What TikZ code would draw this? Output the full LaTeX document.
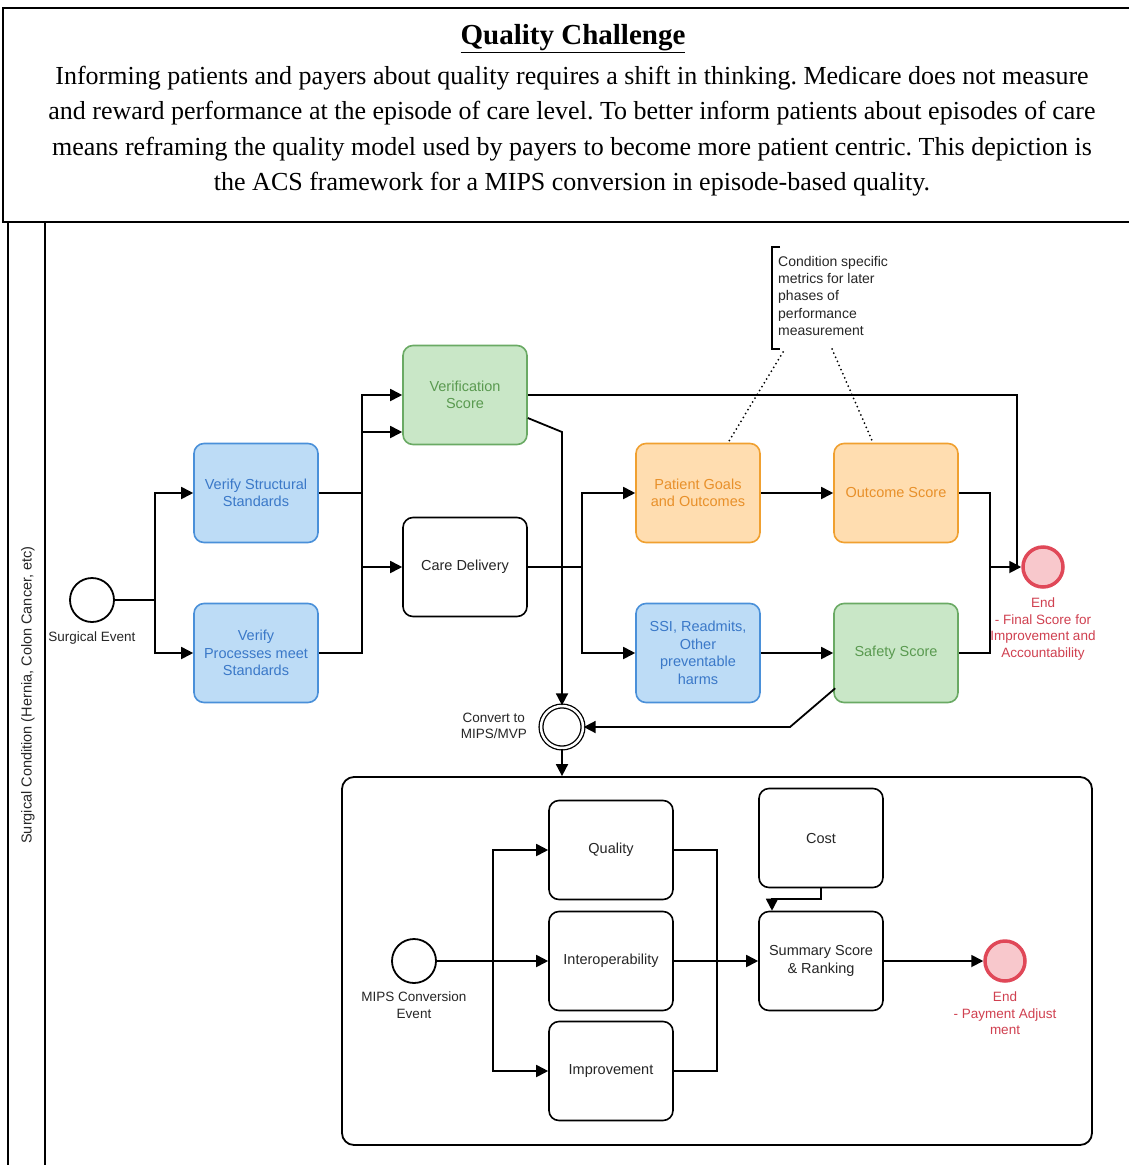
\documentclass[tikz,border=0pt]{standalone}
\usepackage{fontspec}
\setmainfont{Liberation Serif}
\setsansfont{Liberation Sans}
\usetikzlibrary{arrows.meta,calc}
\frenchspacing
\definecolor{bfill}{HTML}{BDDCF6}
\definecolor{bdraw}{HTML}{4A90D9}
\definecolor{btext}{HTML}{3A78C8}
\definecolor{gfill}{HTML}{C9E7C7}
\definecolor{gdraw}{HTML}{6AAA64}
\definecolor{gtext}{HTML}{5A9A50}
\definecolor{ofill}{HTML}{FFDDB0}
\definecolor{odraw}{HTML}{F0A030}
\definecolor{otext}{HTML}{E8902A}
\definecolor{rfill}{HTML}{F8C8CC}
\definecolor{rdraw}{HTML}{E04858}
\definecolor{rtext}{HTML}{D04050}
\tikzset{
  task/.style={draw, rounded corners=10pt, minimum width=124pt, minimum height=99pt,
    align=center, font=\sffamily\fontsize{14.5}{17.5}\selectfont, line width=1.6pt, inner sep=2pt},
  bluetask/.style={task, draw=bdraw, fill=bfill, text=btext},
  greentask/.style={task, draw=gdraw, fill=gfill, text=gtext},
  orangetask/.style={task, draw=odraw, fill=ofill, text=otext},
  plaintask/.style={task, draw=black, fill=white, text=black!85},
  conn/.style={line width=1.8pt},
  arr/.style={conn, -{Triangle[length=12pt,width=12pt]}},
  startev/.style={circle, draw, line width=1.8pt, minimum size=44pt, inner sep=0pt, fill=white},
  endev/.style={circle, draw=rdraw, fill=rfill, line width=3.5pt, minimum size=40pt, inner sep=0pt},
  convev/.style={circle, draw=black, double=white, double distance=2.5pt, line width=1.3pt, minimum size=42pt, inner sep=0pt, fill=white},
  lbl/.style={font=\sffamily\fontsize{13.5}{16.5}\selectfont, align=center, text=black!85, inner sep=0pt},
  redlbl/.style={lbl, text=rtext},
  dotline/.style={line width=2pt, line cap=round, dash pattern=on 0pt off 4.5pt},
}
\begin{document}
\begin{tikzpicture}[x=1pt,y=-1pt]
\useasboundingbox (0,0) rectangle (1129,1165);
\fill[white] (0,0) rectangle (1129,1165);

% header
\draw[line width=1.8pt] (3,8) rectangle (1140,222);
\node[inner sep=0pt, font=\bfseries\fontsize{29}{34}\selectfont] (title) at (573,39) {\underline{Quality Challenge}};
\node[inner sep=0pt, align=center, font=\fontsize{26}{35.5}\selectfont] (body) at (572,131)
 {Informing patients and payers about quality requires a shift in thinking. Medicare does not measure\\
  and reward performance at the episode of care level. To better inform patients about episodes of care\\
  means reframing the quality model used by payers to become more patient centric. This depiction is\\
  the ACS framework for a MIPS conversion in episode-based quality.};

% lane
\draw[line width=1.8pt] (8,222) rectangle (1140,1175);
\draw[line width=1.8pt] (45,222) -- (45,1175);
\node[lbl, rotate=90, font=\sffamily\fontsize{14.5}{17}\selectfont] (lane) at (28,695) {Surgical Condition (Hernia, Colon Cancer, etc)};

% subprocess box
\node[draw, rounded corners=12pt, line width=1.8pt, minimum width=750pt, minimum height=368pt] (sub) at (717,961) {};

% nodes
\node[startev] (se) at (92,600) {};
\node[lbl, anchor=north] (selbl) at (92,632) {Surgical Event};
\node[bluetask] (vss) at (256,493) {Verify Structural\\Standards};
\node[bluetask] (vps) at (256,653) {Verify\\Processes meet\\Standards};
\node[greentask] (verif) at (465,395) {Verification\\Score};
\node[plaintask] (care) at (465,567) {Care Delivery};
\node[orangetask] (pg) at (698,493) {Patient Goals\\and Outcomes};
\node[orangetask] (os) at (896,493) {Outcome Score};
\node[bluetask] (ssi) at (698,653) {SSI, Readmits,\\Other\\preventable\\harms};
\node[greentask] (ss) at (896,653) {Safety Score};
\node[endev] (end1) at (1043,567) {};
\node[redlbl, anchor=north] (end1lbl) at (1043,598) {End\\- Final Score for\\Improvement and\\Accountability};
\node[convev] (conv) at (562,727) {};
\node[lbl, anchor=east, align=center] (convlbl) at (527,726) {Convert to\\MIPS/MVP};

% annotation
\node[anchor=north west, align=left, inner sep=0pt, font=\sffamily\fontsize{14}{17.3}\selectfont, text=black!85] (note) at (778,256)
 {Condition specific\\metrics for later\\phases of\\performance\\measurement};
\draw[line width=1.8pt] (780,247) -- (772,247) -- (772,349) -- (780,349);
\draw[dotline] (783,352) -- ([xshift=30pt]pg.north);
\draw[dotline] (832,349) -- ([xshift=-23pt]os.north);

% subprocess content
\node[startev] (mce) at (414,961) {};
\node[lbl, anchor=north] (mcelbl) at (414,992) {MIPS Conversion\\Event};
\node[plaintask] (qual) at (611,850) {Quality};
\node[plaintask] (inter) at (611,961) {Interoperability};
\node[plaintask] (impr) at (611,1071) {Improvement};
\node[plaintask] (cost) at (821,838) {Cost};
\node[plaintask] (summ) at (821,961) {Summary Score\\\& Ranking};
\node[endev] (end2) at (1005,961) {};
\node[redlbl, anchor=north] (end2lbl) at (1005,992) {End\\- Payment Adjust\\ment};

% connectors top
\coordinate (f1) at (155,600);
\draw[conn] (se.east) -- (f1);
\draw[arr] (f1) |- (vss.west);
\draw[arr] (f1) |- (vps.west);
\draw[arr] (vss.east) -| (362,395) -- (verif.west);
\draw[arr] (vps.east) -| (362,432) -- ([yshift=-37pt]verif.west);
\coordinate (j3) at (362,567);
\draw[arr] (j3) -- (care.west);
\draw[conn] (verif.east) -| (1017,567);
\draw[arr] ([yshift=-23pt]verif.east) -- (562,432) -- (conv.north);
\coordinate (f2) at (582,567);
\draw[conn] (care.east) -- (f2);
\draw[arr] (f2) |- (pg.west);
\draw[arr] (f2) |- (ssi.west);
\draw[arr] (pg) -- (os);
\draw[arr] (ssi) -- (ss);
\coordinate (j4) at (990,567);
\draw[conn] (os.east) -| (j4);
\draw[conn] (ss.east) -| (j4);
\draw[arr] (j4) -- (end1.west);
\draw[arr] ([xshift=2pt,yshift=15pt]ss.south west) -- (790,727) -- (conv.east);
\draw[arr] (conv.south) -- (conv.south |- sub.north);

% connectors bottom
\coordinate (f3) at (493,961);
\draw[conn] (mce.east) -- (f3);
\draw[arr] (f3) |- (qual.west);
\draw[arr] (f3) -- (inter.west);
\draw[arr] (f3) |- (impr.west);
\coordinate (j5) at (717,961);
\draw[conn] (qual.east) -| (j5);
\draw[conn] (impr.east) -| (j5);
\draw[conn] (inter.east) -- (j5);
\draw[arr] (j5) -- (summ.west);
\draw[arr] (cost.south) -- (821,899) -| ([xshift=-49pt]summ.north);
\draw[arr] (summ.east) -- (end2.west);
\end{tikzpicture}
\end{document}
